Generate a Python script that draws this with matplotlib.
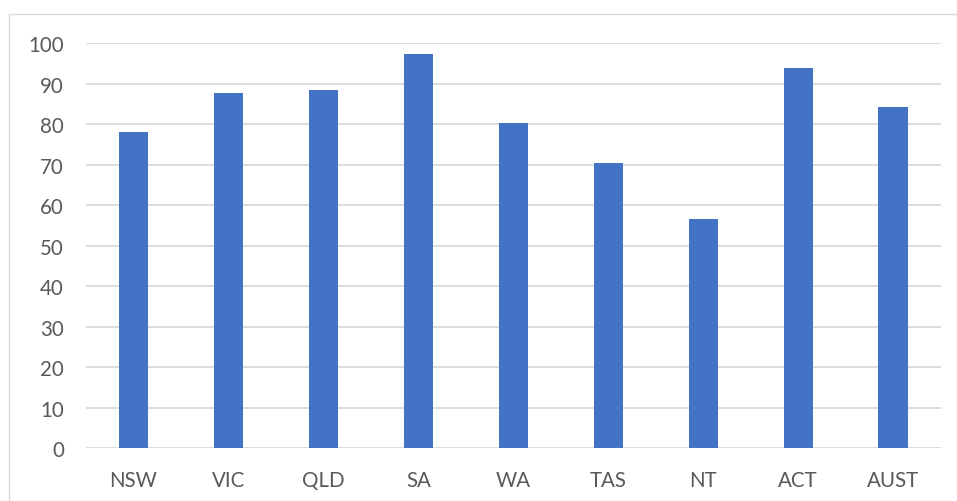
import numpy as np
import matplotlib.pyplot as plt
from matplotlib.patches import Rectangle

regions = ["NSW", "VIC", "QLD", "SA", "WA", "TAS", "NT", "ACT", "AUST"]
values = [78.2, 87.7, 88.5, 97.4, 80.2, 70.3, 56.6, 93.8, 84.2]
y_ticks = list(range(0, 101, 10))

plt.rcParams['font.family'] = ['Lato', 'DejaVu Sans']

fig = plt.figure(figsize=(9.57, 5.02), dpi=100)
fig.patches.append(Rectangle((9 / 957, -0.05), 1.1, 1 - 15 / 502 + 0.05,
                             transform=fig.transFigure, fill=False,
                             edgecolor='#d9d9d9', linewidth=1.0))
ax = fig.add_axes([86 / 957, 1 - 449 / 502, (940.7 - 86) / 957, (449 - 44.3) / 502])

pts = np.arange(len(regions))
ax.bar(pts, values, width=0.31, color='#4472C4', zorder=3)

ax.set_xlim(-0.5, len(regions) - 0.5)
ax.set_ylim(0, 100)
ax.set_yticks(y_ticks)
ax.set_xticks(pts)
ax.set_xticklabels(regions)
ax.yaxis.grid(True, color='#d9d9d9', linewidth=1.3, zorder=0)
for s in ax.spines.values():
    s.set_visible(False)
ax.tick_params(axis='both', length=0, labelsize=14.8, labelcolor='#595959')
ax.tick_params(axis='y', pad=16)
ax.tick_params(axis='x', pad=16)

fig.savefig("out.png", dpi=100)
plt.close()
